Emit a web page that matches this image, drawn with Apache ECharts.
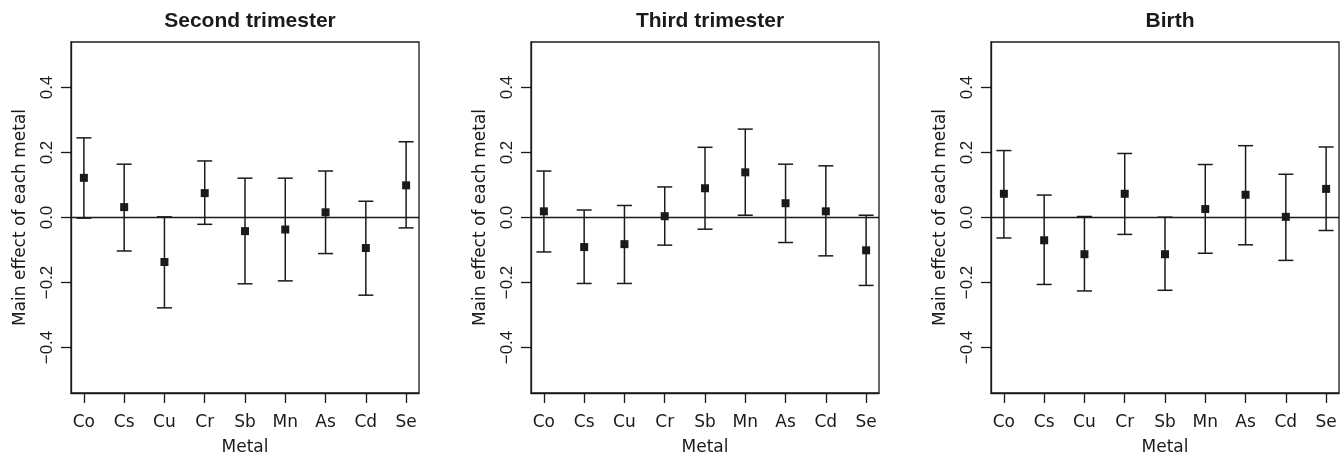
<!DOCTYPE html>
<html>
<head>
<meta charset="utf-8">
<script src="https://cdn.jsdelivr.net/npm/echarts@6/dist/echarts.min.js"></script>
<style>
  html, body { margin: 0; padding: 0; background: #fff; }
  #main { width: 1342px; height: 454px; }
</style>
</head>
<body>
<div id="main"></div>
<script>
// metals on x axis (positions 1..9)
var metals = ['Co', 'Cs', 'Cu', 'Cr', 'Sb', 'Mn', 'As', 'Cd', 'Se'];
var panelTitles = ['Second trimester', 'Third trimester', 'Birth'];
var yTicks = [-0.4, -0.2, 0, 0.2, 0.4];

// Second trimester
var secondEst = [0.122, 0.032, -0.137, 0.075, -0.042, -0.037, 0.016, -0.094, 0.099];
var secondLow = [-0.002, -0.103, -0.278, -0.021, -0.204, -0.195, -0.111, -0.239, -0.032];
var secondHigh = [0.245, 0.164, 0.002, 0.174, 0.121, 0.121, 0.143, 0.050, 0.233];

// Third trimester
var thirdEst = [0.019, -0.091, -0.082, 0.004, 0.090, 0.139, 0.044, 0.019, -0.101];
var thirdLow = [-0.106, -0.203, -0.203, -0.085, -0.036, 0.007, -0.077, -0.118, -0.209];
var thirdHigh = [0.143, 0.023, 0.037, 0.094, 0.216, 0.272, 0.164, 0.159, 0.007];

// Birth
var birthEst = [0.073, -0.070, -0.113, 0.073, -0.113, 0.026, 0.070, 0.002, 0.088];
var birthLow = [-0.063, -0.206, -0.226, -0.052, -0.224, -0.110, -0.084, -0.132, -0.040];
var birthHigh = [0.206, 0.069, 0.003, 0.197, 0.001, 0.163, 0.221, 0.133, 0.217];

var panels = [
  { est: secondEst, low: secondLow, high: secondHigh },
  { est: thirdEst, low: thirdLow, high: thirdHigh },
  { est: birthEst, low: birthLow, high: birthHigh }
];

var ink = '#1a1a1a';
var gridLeft = [71, 531, 991];
var gridTop = 42, gridW = 348, gridH = 351;

function renderErrorBar(params, api) {
  var x = api.value(0);
  var lo = api.coord([x, api.value(1)]);
  var hi = api.coord([x, api.value(2)]);
  var hw = 7.5;
  var style = { stroke: ink, lineWidth: 1.5 };
  return {
    type: 'group',
    children: [
      { type: 'line', shape: { x1: lo[0], y1: lo[1], x2: hi[0], y2: hi[1] }, style: style },
      { type: 'line', shape: { x1: lo[0] - hw, y1: lo[1], x2: lo[0] + hw, y2: lo[1] }, style: style },
      { type: 'line', shape: { x1: hi[0] - hw, y1: hi[1], x2: hi[0] + hw, y2: hi[1] }, style: style }
    ]
  };
}

var ticks = metals.map(function (m, i) { return i + 1; });

var grid = [], xAxis = [], yAxis = [], title = [], series = [];
panels.forEach(function (p, k) {
  grid.push({
    left: gridLeft[k], top: gridTop, width: gridW, height: gridH,
    containLabel: false, outerBoundsMode: 'none',
    show: true, borderColor: ink, borderWidth: 1.3, backgroundColor: 'transparent'
  });
  title.push({
    text: panelTitles[k],
    left: gridLeft[k] + gridW / 2,
    top: 6,
    textAlign: 'center',
    textStyle: { fontFamily: 'Liberation Sans', fontWeight: 'bold', fontSize: 21, color: ink }
  });
  xAxis.push({
    type: 'value', gridIndex: k, min: 0.68, max: 9.32,
    name: 'Metal', nameLocation: 'middle', nameGap: 46,
    nameTextStyle: { fontFamily: 'DejaVu Sans', fontSize: 17, color: ink },
    splitLine: { show: false },
    axisLine: { show: true, onZero: false, lineStyle: { color: ink, width: 1.3 } },
    axisTick: { show: true, customValues: ticks, length: 10, lineStyle: { color: ink, width: 1.3 } },
    axisLabel: {
      customValues: ticks, margin: 21,
      fontFamily: 'DejaVu Sans', fontSize: 17, color: ink,
      formatter: function (v) { return metals[Math.round(v) - 1]; }
    }
  });
  yAxis.push({
    type: 'value', gridIndex: k, min: -0.54, max: 0.54,
    name: 'Main effect of each metal', nameLocation: 'middle', nameGap: 42,
    nameTextStyle: { fontFamily: 'DejaVu Sans', fontSize: 17, color: ink },
    splitLine: { show: false },
    axisLine: { show: true, onZero: false, lineStyle: { color: ink, width: 1.3 } },
    axisTick: { show: true, customValues: yTicks, length: 10, lineStyle: { color: ink, width: 1.3 } },
    axisLabel: {
      customValues: yTicks, rotate: 90, margin: 15,
      fontFamily: 'Liberation Sans', fontSize: 17, color: ink,
      formatter: function (v) { return v.toFixed(1).replace('-', '\u2212'); }
    }
  });
  series.push({
    type: 'custom', xAxisIndex: k, yAxisIndex: k,
    renderItem: renderErrorBar,
    data: p.est.map(function (v, i) { return [i + 1, p.low[i], p.high[i]]; }),
    z: 2
  });
  series.push({
    type: 'scatter', xAxisIndex: k, yAxisIndex: k,
    symbol: 'rect', symbolSize: 8,
    itemStyle: { color: ink, opacity: 1 },
    data: p.est.map(function (v, i) { return [i + 1, v]; }),
    markLine: {
      silent: true, symbol: ['none', 'none'],
      label: { show: false },
      lineStyle: { color: ink, width: 1.3, type: 'solid' },
      data: [{ yAxis: 0 }]
    },
    z: 3
  });
});

var chart = echarts.init(document.getElementById('main'));
chart.setOption({
  animation: false,
  backgroundColor: '#fff',
  title: title,
  grid: grid,
  xAxis: xAxis,
  yAxis: yAxis,
  series: series
});
</script>
</body>
</html>
